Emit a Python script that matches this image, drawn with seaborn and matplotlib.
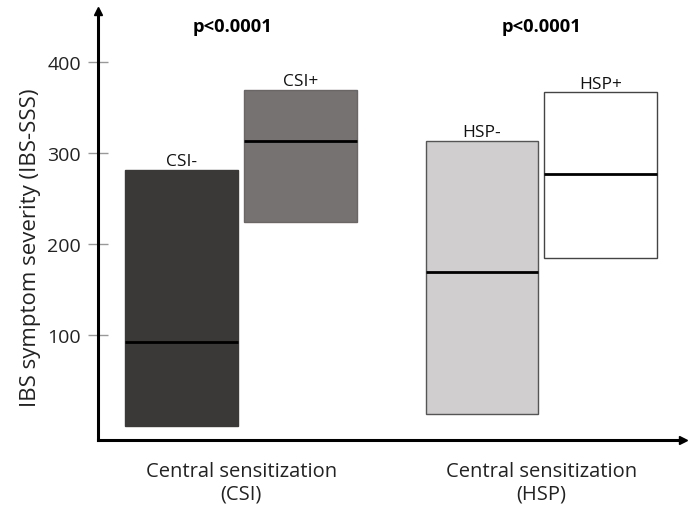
import matplotlib
matplotlib.use("Agg")
import matplotlib.pyplot as plt
import seaborn as sns
import pandas as pd

# ---- data ----
groups = ["Central sensitization\n(CSI)", "Central sensitization\n(HSP)"]
signs = ["-", "+"]
bar_labels = ["CSI-", "CSI+", "HSP-", "HSP+"]
bar_group = [groups[0], groups[0], groups[1], groups[1]]
bar_sign = ["-", "+", "-", "+"]
low = [0, 225, 14, 185]
high = [282, 370, 314, 367]
median = [93, 314, 170, 277]
colors = ["#3b3838", "#767170", "#d0cece", "#ffffff"]
edges = ["#3b3838", "#6a6666", "#555555", "#444444"]
pvalues = ["p<0.0001", "p<0.0001"]
yticks = [100, 200, 300, 400]

df = pd.DataFrame({"label": bar_labels, "group": bar_group, "sign": bar_sign,
                   "low": low, "high": high, "median": median})
df["span"] = df["high"] - df["low"]

sns.set_theme(style="white")
plt.rcParams["font.family"] = ["Open Sans", "DejaVu Sans"]

fig = plt.figure(figsize=(6.89, 5.10), dpi=100)
ax = fig.add_axes([0.142, 0.135, 0.85, 0.841])

for i, row in df.iterrows():
    sub = df.iloc[[i]]
    sns.barplot(data=sub, x="group", y="span", hue="sign", order=groups, hue_order=signs,
                palette={"-": colors[i], "+": colors[i]}, bottom=row["low"], dodge=True,
                width=0.79, gap=0.05, legend=False, edgecolor=edges[i], linewidth=1.0,
                errorbar=None, ax=ax)
    p = ax.patches[-1]
    x0, w = p.get_x(), p.get_width()
    ax.hlines(row["median"], x0, x0 + w, color="black", lw=2.0, zorder=3)
    ax.annotate(row["label"], (x0 + w / 2, row["high"]), xytext=(0, 0.5),
                textcoords="offset points", ha="center", va="bottom", fontsize=12.5,
                color="#111111")

for gi, pv in enumerate(pvalues):
    ax.text(gi - 0.03 * (1 - gi), 0.965, pv, transform=ax.get_xaxis_transform(),
            ha="center", va="center", fontsize=13.2, fontweight="bold", color="black")

ax.set_xlim(-0.477, 1.473)
ax.set_ylim(-15, 456)
ax.set_yticks(yticks)
ax.set_yticklabels([str(t) for t in yticks], fontsize=14, color="#222222")
ax.tick_params(axis="y", direction="inout", length=14, width=1, color="#999999",
               left=True, pad=5)
ax.tick_params(axis="x", bottom=False, labelsize=14.5, pad=9, labelcolor="#222222")
ax.set_xlabel("")
ax.set_ylabel("IBS symptom severity (IBS-SSS)", fontsize=16, color="#222222")
ax.yaxis.set_label_coords(-0.097, 0.45)

for s in ["top", "right"]:
    ax.spines[s].set_visible(False)
for s in ["left", "bottom"]:
    ax.spines[s].set_color("black")
    ax.spines[s].set_linewidth(2.2)

ax.plot(1, 0, ">", color="black", markersize=6, transform=ax.transAxes, clip_on=False)
ax.plot(0, 1, "^", color="black", markersize=6, transform=ax.transAxes, clip_on=False)

fig.savefig("out.png", dpi=100)
